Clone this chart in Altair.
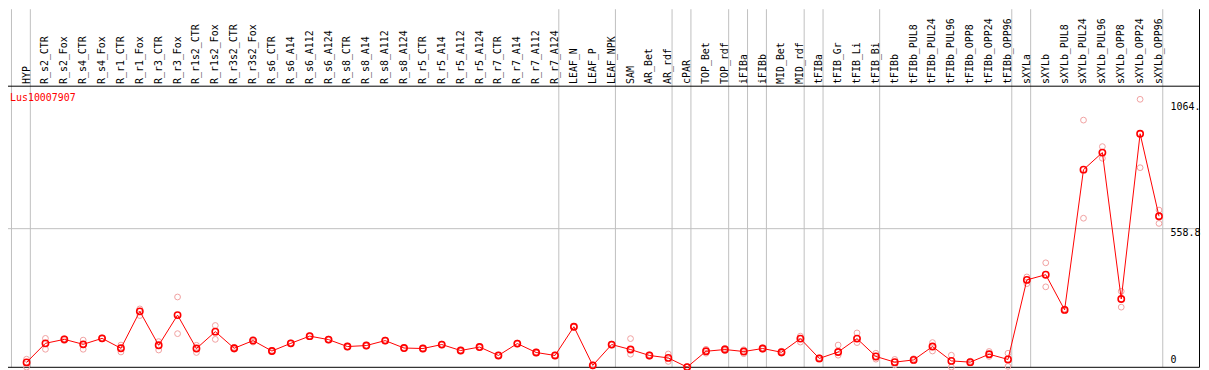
import altair as alt
import pandas as pd

categories = [
    "HYP",
    "R_s2_CTR", "R_s2_Fox", "R_s4_CTR", "R_s4_Fox", "R_r1_CTR", "R_r1_Fox",
    "R_r3_CTR", "R_r3_Fox", "R_r1s2_CTR", "R_r1s2_Fox", "R_r3s2_CTR", "R_r3s2_Fox",
    "R_s6_CTR", "R_s6_A14", "R_s6_A112", "R_s6_A124",
    "R_s8_CTR", "R_s8_A14", "R_s8_A112", "R_s8_A124",
    "R_r5_CTR", "R_r5_A14", "R_r5_A112", "R_r5_A124",
    "R_r7_CTR", "R_r7_A14", "R_r7_A112", "R_r7_A124",
    "LEAF_N", "LEAF_P", "LEAF_NPK",
    "SAM", "AR_Bet", "AR_rdf", "cPAR", "TOP_Bet", "TOP_rdf",
    "iFIBa", "iFIBb", "MID_Bet", "MID_rdf",
    "tFIBa", "tFIB_Gr", "tFIB_Li", "tFIB_Bi", "tFIBb",
    "tFIBb_PUL8", "tFIBb_PUL24", "tFIBb_PUL96", "tFIBb_OPP8", "tFIBb_OPP24", "tFIBb_OPP96",
    "sXYLa", "sXYLb",
    "sXYLb_PUL8", "sXYLb_PUL24", "sXYLb_PUL96", "sXYLb_OPP8", "sXYLb_OPP24", "sXYLb_OPP96",
]

means = [19, 96, 112, 92, 116, 76, 225, 88, 210, 75, 143, 76, 107, 65, 96, 125, 111,
         83, 87, 107, 77, 75, 91, 67, 81, 47, 95, 59, 47, 163, 7, 91, 71, 47, 37, 0,
         64, 71, 63, 75, 60, 115, 35, 61, 115, 43, 20, 29, 83, 25, 20, 52, 31,
         352, 373, 231, 797, 866, 275, 942, 609]

rep_high = [32, 116, 115, 109, 118, 89, 235, 103, 283, 88, 168, 80, 112, 68, 98, 127, 113,
            85, 89, 109, 79, 77, 93, 69, 83, 49, 97, 61, 49, 165, 9, 93, 115, 50, 53, 2,
            72, 76, 70, 78, 64, 125, 38, 89, 138, 56, 31, 34, 99, 48, 24, 63, 56,
            364, 421, 235, 997, 890, 306, 1081, 634]

rep_low = [0, 72, 107, 72, 114, 61, 208, 69, 135, 59, 112, 72, 101, 62, 94, 123, 109,
           81, 85, 105, 75, 73, 89, 65, 79, 45, 93, 57, 45, 161, 5, 89, 52, 44, 23, 0,
           56, 66, 54, 72, 56, 101, 32, 48, 99, 32, 9, 26, 65, 0, 16, 43, 3,
           337, 324, 229, 601, 843, 242, 805, 580]

# index of the last category of each group (separator drawn just after it)
group_last = [-1, 0, 28, 31, 34, 35, 37, 38, 39, 41, 42, 45, 52, 53, 60]

tick_values = [1064, 558.8]
tick_labels = ["1064.", "558.8"]
zero_value = [0]
zero_label = ["0"]
gene = "Lus10007907"

W, H = 1201, 362
FONT = "DejaVu Sans Mono"

x_scale = alt.Scale(domain=[-0.984, 62.226], nice=False, zero=False)
y_scale = alt.Scale(domain=[-6.82, 1444.68], nice=False, zero=False)

n = len(categories)
df = pd.DataFrame({"idx": list(range(n)), "cat": categories, "mean": means})
reps = pd.DataFrame({"idx": list(range(n)) * 2, "val": rep_high + rep_low})
seps = pd.DataFrame({"last": group_last})
ticks = pd.DataFrame({"v": tick_values, "label": tick_labels})
zero = pd.DataFrame({"v": zero_value, "label": zero_label})
one = pd.DataFrame({"t": [gene]})

X = alt.X("idx:Q", scale=x_scale, axis=None)

sep_layer = (
    alt.Chart(seps)
    .transform_calculate(pos="datum.last + 0.2")
    .mark_rule(color="#c0c0c0", strokeWidth=1)
    .encode(x=alt.X("pos:Q", scale=x_scale, axis=None), y=alt.value(0), y2=alt.value(360.5))
)

grid_layer = (
    alt.Chart(ticks[ticks["label"] == "558.8"])
    .mark_rule(color="#c0c0c0", strokeWidth=1)
    .encode(y=alt.Y("v:Q", scale=y_scale, axis=None), x=alt.value(0), x2=alt.value(1199.5))
)

header_line = (
    alt.Chart(one).mark_rule(color="black", strokeWidth=1)
    .encode(y=alt.value(77.5), x=alt.value(0), x2=alt.value(1199.5))
)
right_border = (
    alt.Chart(one).mark_rule(color="black", strokeWidth=1)
    .encode(x=alt.value(1199.5), y=alt.value(0), y2=alt.value(360.5))
)
bottom_border = (
    alt.Chart(one).mark_rule(color="black", strokeWidth=1)
    .encode(y=alt.value(360.5), x=alt.value(0), x2=alt.value(1199.5))
)

rep_layer = (
    alt.Chart(reps)
    .mark_point(shape="circle", filled=False, color="#f0a0a0", size=34, strokeWidth=1, opacity=1)
    .encode(x=X, y=alt.Y("val:Q", scale=y_scale, axis=None))
)

line_layer = (
    alt.Chart(df)
    .mark_line(color="red", strokeWidth=1)
    .encode(x=X, y=alt.Y("mean:Q", scale=y_scale, axis=None))
)

mean_layer = (
    alt.Chart(df)
    .mark_point(shape="circle", filled=False, color="red", size=40, strokeWidth=1.6, opacity=1)
    .encode(x=X, y=alt.Y("mean:Q", scale=y_scale, axis=None))
)

label_layer = (
    alt.Chart(df)
    .mark_text(angle=270, align="left", baseline="middle", font=FONT, fontSize=10, color="black")
    .encode(x=X, y=alt.value(75.3), text="cat:N")
)

title_layer = (
    alt.Chart(one)
    .mark_text(align="left", baseline="alphabetic", font=FONT, fontSize=10, color="red")
    .encode(x=alt.value(2), y=alt.value(92.7), text="t:N")
)

tick_layer = (
    alt.Chart(ticks)
    .mark_text(align="left", baseline="top", dy=-1, font=FONT, fontSize=10, color="black")
    .encode(x=alt.value(1170.3), y=alt.Y("v:Q", scale=y_scale, axis=None), text="label:N")
)

zero_layer = (
    alt.Chart(zero)
    .mark_text(align="left", baseline="alphabetic", dy=-4, font=FONT, fontSize=10, color="black")
    .encode(x=alt.value(1170.3), y=alt.Y("v:Q", scale=y_scale, axis=None), text="label:N")
)

chart = (
    alt.layer(
        sep_layer, grid_layer, header_line, right_border, bottom_border,
        rep_layer, line_layer, mean_layer,
        label_layer, title_layer, tick_layer, zero_layer,
    )
    .properties(width=W, height=H, padding=0, autosize=alt.AutoSizeParams(type="none"),
                background="white")
    .configure_view(stroke=None)
)

chart.save("out.html", embed_options={"renderer": "svg", "actions": False})
